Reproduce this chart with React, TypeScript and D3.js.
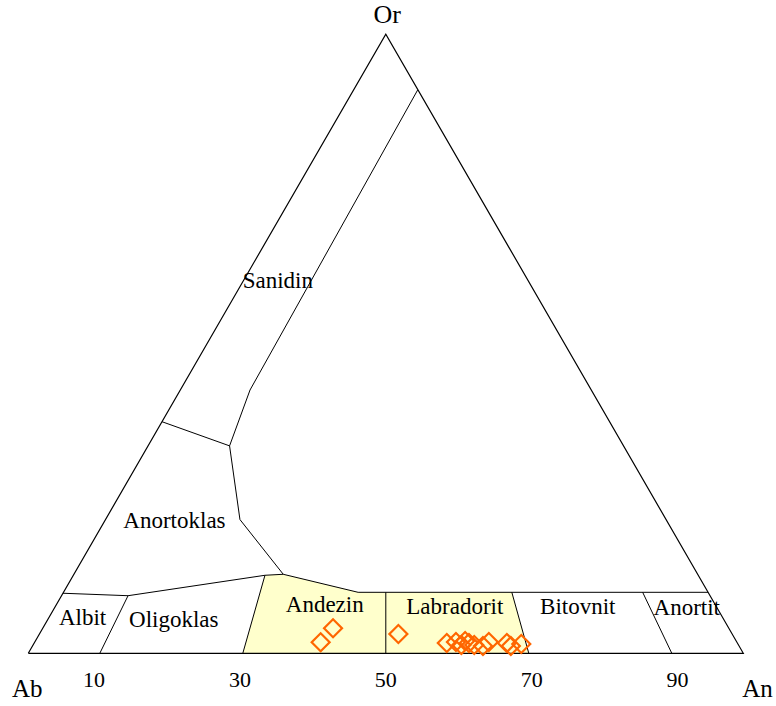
import React from "react";
import * as d3 from "d3";

// Feldspar ternary diagram: Ab (left), An (right), Or (top).
// Points are given as [An, Or] in percent; Ab = 100 - An - Or.

const W = 776;
const H = 706;

// Field boundaries, [An, Or]
const sanidinRight: [number, number][] = [
  [8.97, 90.97], [9.75, 42.52], [11.4, 33.5], [18.8, 21.6], [29.28, 12.76],
];
const anortoklasTop: [number, number][] = [[0, 37.4], [11.4, 33.5]];
const plagioclaseTop: [number, number][] = [
  [0, 9.7], [9.3, 9.3], [26.8, 12.6], [29.28, 12.76], [41.2, 9.85], [90.15, 9.85],
];
const dividers: [number, number][][] = [
  [[10, 0], [9.3, 9.3]],
  [[30, 0], [26.8, 12.6]],
  [[50, 0], [45.075, 9.85]],
  [[70, 0], [62.7, 9.85]],
  [[90, 0], [81.0, 9.85]],
];
// Highlighted fields (Andezin + Labradorit)
const highlight: [number, number][] = [
  [30, 0], [26.8, 12.6], [29.28, 12.76], [41.2, 9.85], [62.7, 9.85], [70, 0],
];

// Field names with their anchor position [An, Or]
const fieldNames = ["Sanidin", "Anortoklas", "Albit", "Oligoklas", "Andezin", "Labradorit", "Bitovnit", "Anortit"];
const fieldAnchors: [number, number][] = [
  [5.4, 59.0], [10.3, 20.28], [5.3, 4.57], [18.2, 4.3], [38.1, 6.72], [56.5, 6.3], [73.7, 6.3], [89.0, 6.19],
];

// Base axis labels (An %)
const tickValues = [10, 30, 50, 70, 90];

// Sample compositions [An, Or]
const samples: [number, number][] = [
  [40.6, 4.04], [40.0, 1.78], [50.2, 3.12],
  [57.7, 1.66], [58.9, 1.82], [59.9, 1.34], [60.1, 1.99], [60.8, 1.66],
  [61.7, 1.34], [63.0, 1.18], [63.5, 1.82], [66.1, 1.66], [66.9, 1.18], [68.2, 1.5],
];

const side = 715;
const x0 = 28.3;
const y0 = 653.3;
const tri = (side * Math.sqrt(3)) / 2;

const xScale = d3.scaleLinear().domain([0, 100]).range([x0, x0 + side]);
const yScale = d3.scaleLinear().domain([0, 100]).range([y0, y0 - tri]);

const px = ([an, or]: [number, number]) => xScale(an + or / 2);
const py = ([, or]: [number, number]) => yScale(or);

const line = d3.line<[number, number]>().x(px).y(py);

const diamond = d3.symbol().type(d3.symbolSquare).size(162)();

const font = "'Liberation Serif', 'Times New Roman', serif";

export default function App() {
  const outline: [number, number][] = [[0, 0], [100, 0], [0, 100], [0, 0]];
  const mid = xScale(50);
  const labelSpread = 1.02;
  return (
    <svg
      width={W}
      height={H}
      style={{ position: "absolute", left: 0, top: 0, background: "#fff" }}
      fontFamily={font}
    >
      <path d={line(highlight)!} fill="#ffffcc" stroke="none" />
      <path d={line(outline)!} fill="none" stroke="#000" strokeWidth={1.2} />
      <path d={line(sanidinRight)!} fill="none" stroke="#000" strokeWidth={1} />
      <path d={line(anortoklasTop)!} fill="none" stroke="#000" strokeWidth={1} />
      <path d={line(plagioclaseTop)!} fill="none" stroke="#000" strokeWidth={1} />
      {dividers.map((d, i) => (
        <path key={i} d={line(d)!} fill="none" stroke="#000" strokeWidth={1} />
      ))}

      {fieldNames.map((name, i) => (
        <text
          key={name}
          x={px(fieldAnchors[i])}
          y={py(fieldAnchors[i])}
          textAnchor="middle"
          fontSize={23}
          fill="#000"
        >
          {name}
        </text>
      ))}

      {samples.map((s, i) => (
        <path
          key={i}
          d={diamond!}
          transform={`translate(${px(s)},${py(s)}) rotate(45)`}
          fill="none"
          stroke="#ff6600"
          strokeWidth={2.2}
        />
      ))}

      {tickValues.map((v) => (
        <text
          key={v}
          x={mid + (xScale(v) - mid) * labelSpread}
          y={687}
          textAnchor="middle"
          fontSize={22}
          fill="#000"
        >
          {v}
        </text>
      ))}

      <text x={xScale(0) - 1} y={697} textAnchor="middle" fontSize={25}>Ab</text>
      <text x={xScale(100) - 1} y={697} textAnchor="start" fontSize={25}>An</text>
      <text x={xScale(50) + 1.5} y={23} textAnchor="middle" fontSize={26}>Or</text>
    </svg>
  );
}
